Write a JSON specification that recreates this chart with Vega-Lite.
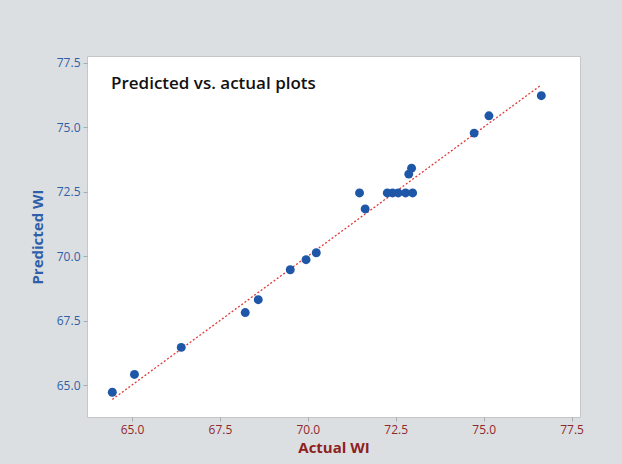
{
  "$schema": "https://vega.github.io/schema/vega-lite/v6.json",
  "autosize": {"type": "none"},
  "width": 493,
  "height": 361,
  "padding": {"left": 87, "top": 56, "right": 42, "bottom": 47},
  "background": "#dcdfe2",
  "title": {
    "text": "Predicted vs. actual plots",
    "orient": "top",
    "anchor": "start",
    "frame": "group",
    "baseline": "alphabetic",
    "offset": -50,
    "dx": 24,
    "font": "Open Sans",
    "fontSize": 17,
    "fontWeight": 600,
    "color": "#111111"
  },
  "config": {
    "view": {"stroke": "#c4c6c8", "fill": "white"},
    "axis": {
      "labelFont": "Open Sans",
      "titleFont": "Open Sans",
      "labelFontSize": 12,
      "titleFontSize": 15,
      "titleFontWeight": "bold",
      "tickColor": "#a9acaf",
      "tickSize": 4,
      "domain": false,
      "grid": false
    }
  },
  "data": {
    "values": [
      {"actual": 64.44, "predicted": 64.72},
      {"actual": 65.07, "predicted": 65.41},
      {"actual": 66.40, "predicted": 66.46},
      {"actual": 68.22, "predicted": 67.81},
      {"actual": 68.59, "predicted": 68.31},
      {"actual": 69.50, "predicted": 69.47},
      {"actual": 69.95, "predicted": 69.86},
      {"actual": 70.24, "predicted": 70.13},
      {"actual": 71.47, "predicted": 72.45},
      {"actual": 71.63, "predicted": 71.83},
      {"actual": 72.26, "predicted": 72.45},
      {"actual": 72.41, "predicted": 72.45},
      {"actual": 72.57, "predicted": 72.45},
      {"actual": 72.78, "predicted": 72.45},
      {"actual": 72.98, "predicted": 72.45},
      {"actual": 72.87, "predicted": 73.18},
      {"actual": 72.95, "predicted": 73.41},
      {"actual": 74.73, "predicted": 74.77},
      {"actual": 75.15, "predicted": 75.44},
      {"actual": 76.64, "predicted": 76.22}
    ]
  },
  "layer": [
    {
      "data": {"values": [{"actual": 64.44, "fit": 64.44}, {"actual": 76.64, "fit": 76.64}]},
      "mark": {"type": "line", "color": "#e03a3a", "strokeWidth": 1.3, "strokeDash": [2, 2]},
      "encoding": {
        "x": {"field": "actual", "type": "quantitative"},
        "y": {"field": "fit", "type": "quantitative"}
      }
    },
    {
      "mark": {"type": "circle", "size": 80, "color": "#1f57a8", "opacity": 1},
      "encoding": {
        "x": {
          "field": "actual",
          "type": "quantitative",
          "title": "Actual WI",
          "scale": {"domain": [63.72, 77.74], "nice": false, "zero": false},
          "axis": {
            "values": [65, 67.5, 70, 72.5, 75, 77.5],
            "format": ".1f",
            "labelColor": "#8e2a2a",
            "titleColor": "#8e1f1f",
            "labelPadding": 3,
            "titlePadding": 5
          }
        },
        "y": {
          "field": "predicted",
          "type": "quantitative",
          "title": "Predicted WI",
          "scale": {"domain": [63.76, 77.76], "nice": false, "zero": false},
          "axis": {
            "values": [65, 67.5, 70, 72.5, 75, 77.5],
            "format": ".1f",
            "labelColor": "#2f5fa8",
            "titleColor": "#2f5fa8",
            "labelPadding": 3,
            "titlePadding": 11
          }
        }
      }
    }
  ]
}
